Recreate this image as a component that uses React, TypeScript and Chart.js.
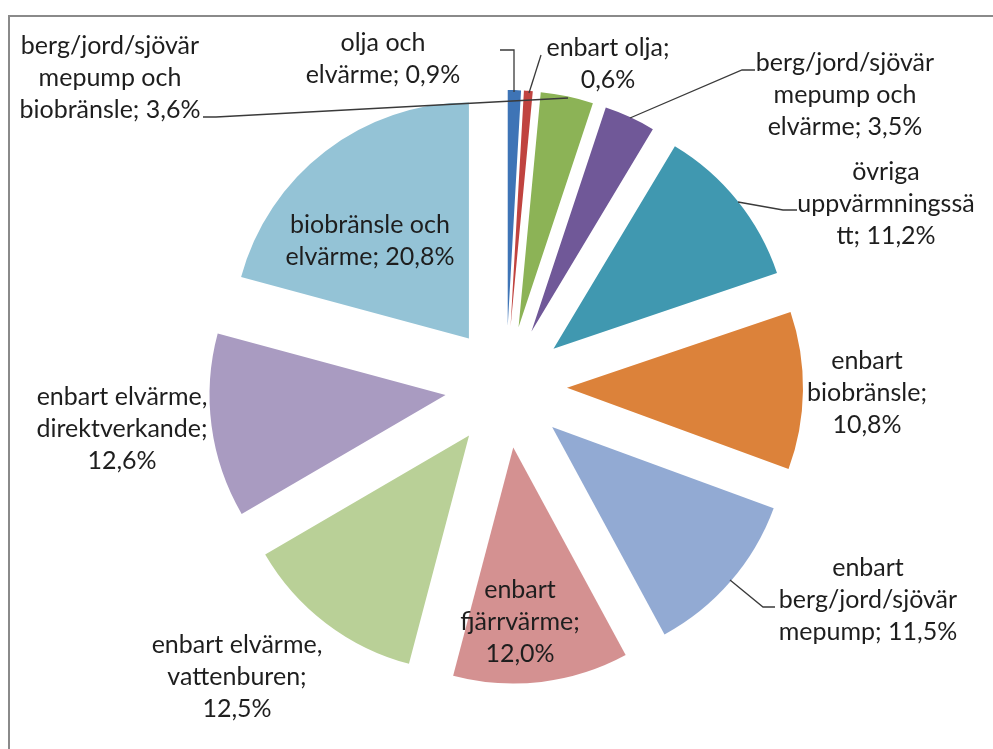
import React, { useEffect, useRef } from "react";
import { Chart, registerables } from "chart.js";

Chart.register(...registerables);

const categories: string[] = [
  "olja och elvärme",
  "enbart olja",
  "berg/jord/sjövär mepump och biobränsle",
  "berg/jord/sjövär mepump och elvärme",
  "övriga uppvärmningssätt",
  "enbart biobränsle",
  "enbart berg/jord/sjövär mepump",
  "enbart fjärrvärme",
  "enbart elvärme, vattenburen",
  "enbart elvärme, direktverkande",
  "biobränsle och elvärme",
];

const values: number[] = [0.9, 0.6, 3.6, 3.5, 11.2, 10.8, 11.5, 12.0, 12.5, 12.6, 20.8];

const colors: string[] = [
  "#3E74B6",
  "#C0433F",
  "#8CB356",
  "#705898",
  "#4098B0",
  "#DC823A",
  "#92AAD3",
  "#D49191",
  "#B9D097",
  "#A99BC1",
  "#94C3D6",
];

// label text lines (as displayed)
const labelLines: string[][] = [
  ["olja och", "elvärme; 0,9%"],
  ["enbart olja;", "0,6%"],
  ["berg/jord/sjövär", "mepump och", "biobränsle; 3,6%"],
  ["berg/jord/sjövär", "mepump och", "elvärme; 3,5%"],
  ["övriga", "uppvärmningssä", "tt; 11,2%"],
  ["enbart", "biobränsle;", "10,8%"],
  ["enbart", "berg/jord/sjövär", "mepump; 11,5%"],
  ["enbart", "fjärrvärme;", "12,0%"],
  ["enbart elvärme,", "vattenburen;", "12,5%"],
  ["enbart elvärme,", "direktverkande;", "12,6%"],
  ["biobränsle och", "elvärme; 20,8%"],
];

// label block centre positions (x, y of first line)
const labelX: number[] = [383, 608, 110, 845, 886, 867, 868, 520, 237, 122, 370];
const labelY: number[] = [43, 48, 46, 63, 172, 361, 568, 590, 645, 397, 225];

// leader lines (polyline points)
const leaders: number[][][] = [
  [[500, 50], [514, 50], [514, 92]],
  [[541, 55], [529, 93]],
  [[203, 117], [216, 117], [568, 98]],
  [[755, 70], [742, 70], [630, 118]],
  [[738, 202], [783, 210], [797, 210]],
  [[730, 580], [763, 607], [775, 607]],
];

const EXPLODE = 61;

const explodePlugin = {
  id: "explode",
  afterDatasetsUpdate(chart: any) {
    const meta = chart.getDatasetMeta(0);
    meta.data.forEach((arc: any) => {
      const mid = (arc.startAngle + arc.endAngle) / 2;
      arc.x = arc.x + Math.cos(mid) * EXPLODE;
      arc.y = arc.y + Math.sin(mid) * EXPLODE;
    });
  },
};

const labelPlugin = {
  id: "customLabels",
  beforeDraw(chart: any) {
    const ctx = chart.ctx;
    ctx.save();
    ctx.fillStyle = "#ffffff";
    ctx.fillRect(0, 0, chart.width, chart.height);
    ctx.strokeStyle = "#8a8a8a";
    ctx.lineWidth = 2;
    ctx.beginPath();
    ctx.moveTo(9, chart.height + 5);
    ctx.lineTo(9, 16);
    ctx.lineTo(chart.width + 5, 16);
    ctx.stroke();
    ctx.restore();
  },
  afterDraw(chart: any) {
    const ctx = chart.ctx;
    ctx.save();
    ctx.strokeStyle = "#3a3a3a";
    ctx.lineWidth = 1.3;
    leaders.forEach((pts) => {
      ctx.beginPath();
      pts.forEach((p, i) => (i === 0 ? ctx.moveTo(p[0], p[1]) : ctx.lineTo(p[0], p[1])));
      ctx.stroke();
    });
    ctx.fillStyle = "#1e1e1e";
    ctx.font = "25px Lato";
    ctx.textAlign = "center";
    ctx.textBaseline = "middle";
    labelLines.forEach((lines, i) => {
      lines.forEach((t, j) => {
        ctx.fillText(t, labelX[i], labelY[i] + j * 32);
      });
    });
    ctx.restore();
  },
};

export default function App() {
  const ref = useRef<HTMLCanvasElement | null>(null);
  useEffect(() => {
    if (!ref.current) return;
    const chart = new Chart(ref.current, {
      type: "pie",
      data: {
        labels: categories,
        datasets: [
          {
            data: values,
            backgroundColor: colors,
            borderWidth: 0,
          },
        ],
      },
      options: {
        animation: false,
        responsive: false,
        radius: 236,
        layout: { padding: { left: 19, right: 0, top: 25, bottom: 0 } },
        plugins: {
          legend: { display: false },
          tooltip: { enabled: false },
        },
      },
      plugins: [explodePlugin, labelPlugin],
    } as any);
    return () => chart.destroy();
  }, []);
  return (
    <div style={{ position: "fixed", left: 0, top: 0, width: 993, height: 749 }}>
      <canvas ref={ref} width={993} height={749} style={{ display: "block" }} />
    </div>
  );
}
